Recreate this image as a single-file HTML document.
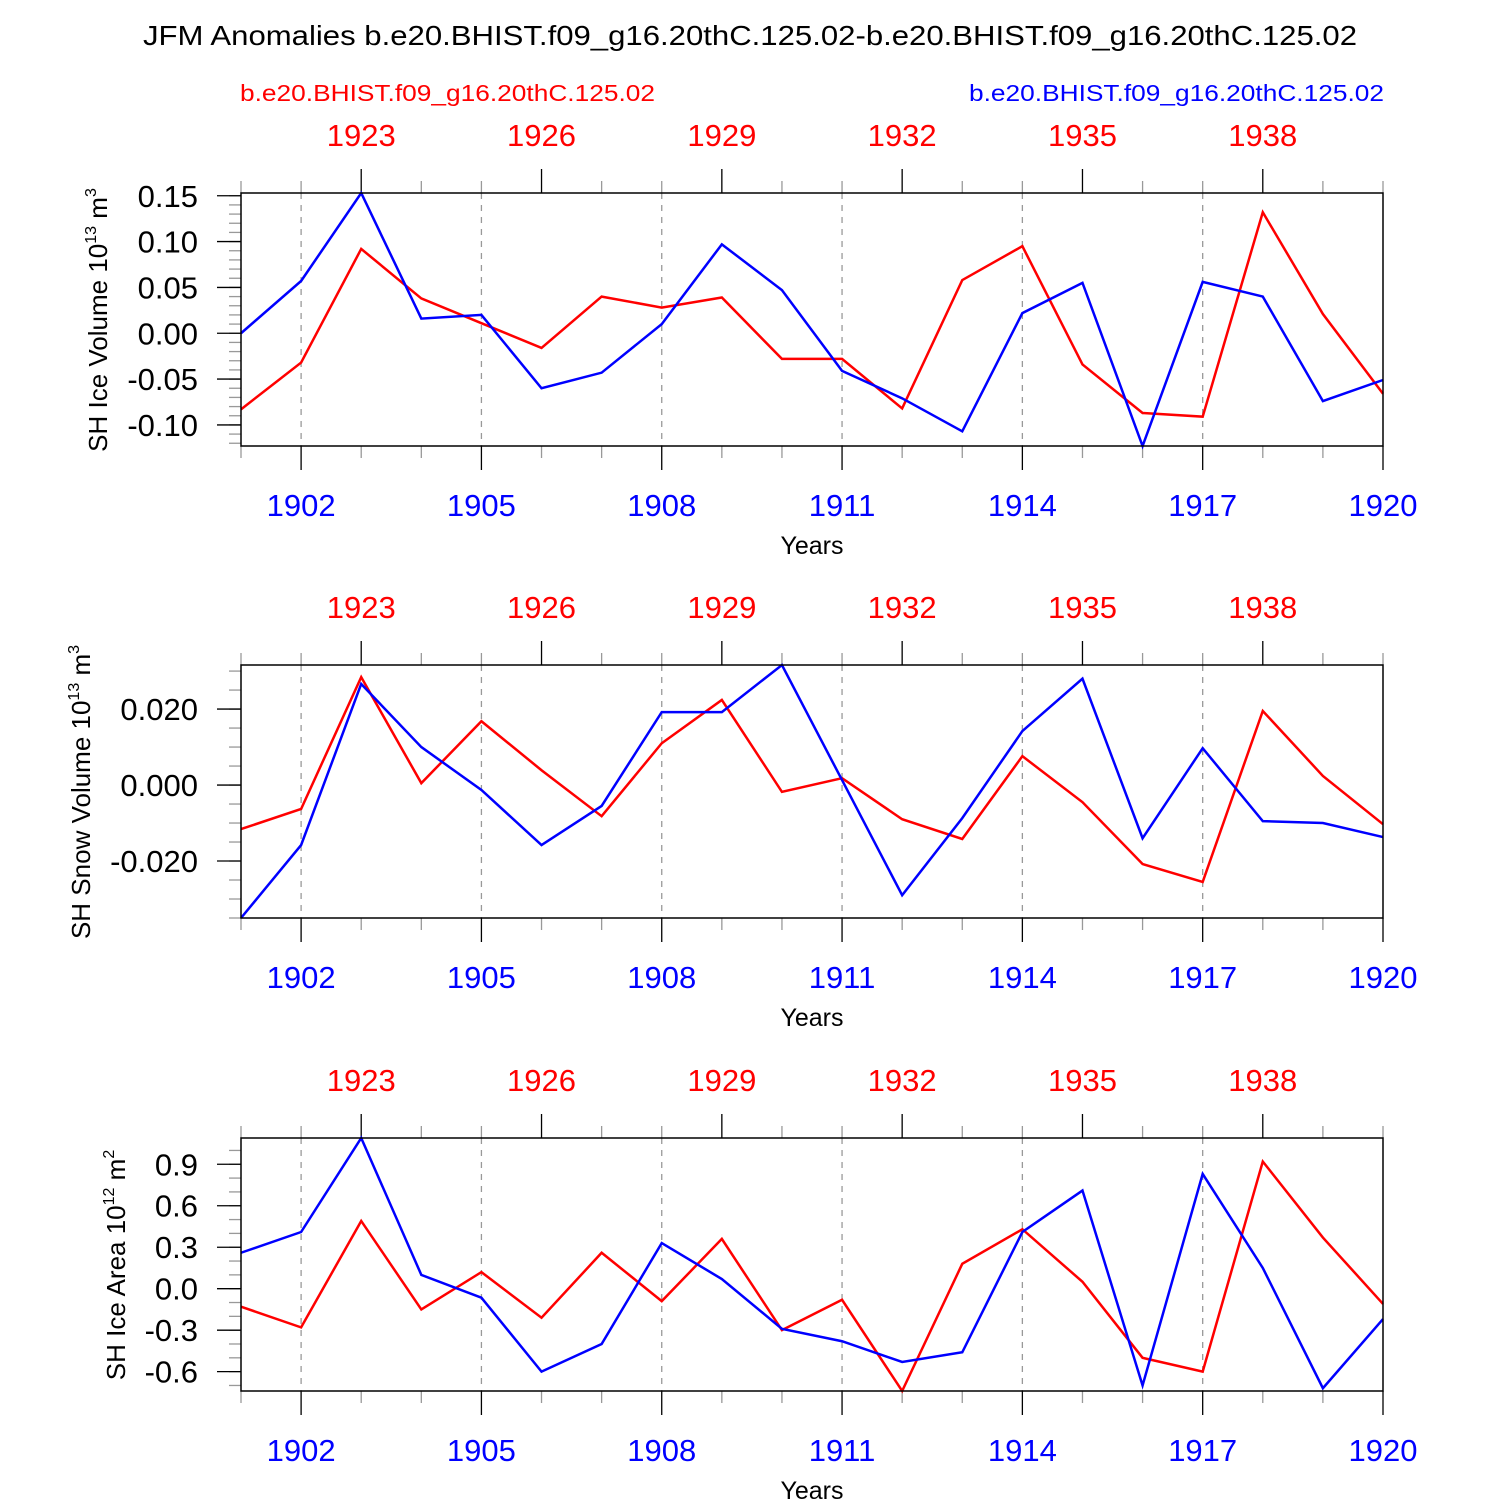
<!DOCTYPE html>
<html><head><meta charset="utf-8"><style>
html,body{margin:0;padding:0;background:#fff}
svg{display:block;font-family:"Liberation Sans",sans-serif}
</style></head><body>
<svg id="c" width="1500" height="1500" viewBox="0 0 1500 1500">
<text x="143" y="45" font-size="28" textLength="1214" lengthAdjust="spacingAndGlyphs">JFM Anomalies b.e20.BHIST.f09_g16.20thC.125.02-b.e20.BHIST.f09_g16.20thC.125.02</text>
<text x="240" y="101" font-size="23" fill="#f00" textLength="415" lengthAdjust="spacingAndGlyphs">b.e20.BHIST.f09_g16.20thC.125.02</text>
<text x="969" y="101" font-size="23" fill="#00f" textLength="415" lengthAdjust="spacingAndGlyphs">b.e20.BHIST.f09_g16.20thC.125.02</text>
</svg>
<script>
const years=[1901,1902,1903,1904,1905,1906,1907,1908,1909,1910,1911,1912,1913,1914,1915,1916,1917,1918,1919,1920];
const blueMajorLabels=["1902","1905","1908","1911","1914","1917","1920"];
const redTopLabels=["1923","1926","1929","1932","1935","1938"];
const iceVolBlue=[0.000,0.057,0.153,0.016,0.020,-0.060,-0.043,0.010,0.097,0.047,-0.041,-0.071,-0.107,0.022,0.055,-0.123,0.056,0.040,-0.074,-0.051];
const iceVolRed=[-0.083,-0.032,0.092,0.038,0.011,-0.016,0.040,0.028,0.039,-0.028,-0.028,-0.082,0.058,0.095,-0.034,-0.087,-0.091,0.132,0.021,-0.066];
const snowBlue=[-0.035,-0.0158,0.0266,0.010,-0.0013,-0.0158,-0.0055,0.0192,0.0192,0.0316,0.0013,-0.029,-0.0087,0.0142,0.028,-0.014,0.0097,-0.0095,-0.010,-0.0137];
const snowRed=[-0.0116,-0.0063,0.0284,0.0005,0.0168,0.0039,-0.0082,0.011,0.0224,-0.0018,0.0018,-0.009,-0.0142,0.0076,-0.0045,-0.0208,-0.0255,0.0195,0.0024,-0.0103];
const areaBlue=[0.26,0.41,1.09,0.10,-0.065,-0.60,-0.40,0.33,0.07,-0.29,-0.38,-0.53,-0.46,0.41,0.71,-0.70,0.83,0.15,-0.72,-0.22];
const areaRed=[-0.13,-0.28,0.49,-0.15,0.12,-0.21,0.26,-0.09,0.36,-0.30,-0.08,-0.74,0.18,0.43,0.05,-0.50,-0.60,0.92,0.37,-0.11];
const iceVolTicks=[0.15,0.10,0.05,0.00,-0.05,-0.10];
const snowTicks=[0.020,0.000,-0.020];
const areaTicks=[0.9,0.6,0.3,0.0,-0.3,-0.6];

const svg=document.getElementById('c');
const NS='http://www.w3.org/2000/svg';
function mk(tag,at,parent){const e=document.createElementNS(NS,tag);for(const k in at)e.setAttribute(k,at[k]);(parent||svg).appendChild(e);return e;}
const X0=241,X1=1383;
function xs(yr){return X0+(yr-1901)*(X1-X0)/19;}

function panel(name,top,blue,red,ticks,decimals,minorStep,ylabelMain,ylabelExp,ylabelUnit,ylabelX,ylabelY){
  const bot=top+253;
  const all=blue.concat(red);
  const vmin=Math.min(...all),vmax=Math.max(...all);
  const ys=v=>bot-(v-vmin)/(vmax-vmin)*(bot-top);
  const g=mk('g',{});
  
  
  years.forEach((y,i)=>{
    if((y-1902)%3===0 && y!==1920){
      const l=mk('line',{x1:xs(y),x2:xs(y),y1:top,y2:bot,stroke:'#999','stroke-width':1.3,'stroke-dasharray':'6,6'},g);
      
    }
  });
  years.forEach(y=>{
    const maj=(y-1902)%3===0;
    mk('line',{x1:xs(y),x2:xs(y),y1:bot,y2:bot+(maj?24:12),stroke:maj?'#000':'#999','stroke-width':1.3},g);
    const ry=y+20;
    const majTop=(ry-1923)%3===0&&ry>=1923&&ry<=1938;
    mk('line',{x1:xs(y),x2:xs(y),y1:top,y2:top-(majTop?24:12),stroke:majTop?'#000':'#999','stroke-width':1.3},g);
  });
  blueMajorLabels.forEach(s=>{
    const t=mk('text',{x:xs(+s),y:bot+70,'text-anchor':'middle','font-size':31,fill:'#00f'},g);t.textContent=s;
    
  });
  redTopLabels.forEach(s=>{
    const t=mk('text',{x:xs(+s-20),y:top-47,'text-anchor':'middle','font-size':31,fill:'#f00'},g);t.textContent=s;
    
  });
  const xt=mk('text',{x:812,y:bot+108,'text-anchor':'middle','font-size':25},g);xt.textContent='Years';
  
  const s0=Math.ceil(vmin/minorStep-1e-6);
  for(let k=s0;k*minorStep<=vmax+1e-9;k++){
    const v=k*minorStep;
    mk('line',{x1:X0-12,x2:X0,y1:ys(v),y2:ys(v),stroke:'#999','stroke-width':1.3},g);
  }
  ticks.forEach(v=>{
    mk('line',{x1:X0-24,x2:X0,y1:ys(v),y2:ys(v),stroke:'#000','stroke-width':1.3},g);
    const t=mk('text',{x:X0-43,y:ys(v)+11,'text-anchor':'end','font-size':31},g);t.textContent=v.toFixed(decimals);
    
  });
  const yl=mk('text',{x:0,y:0,'font-size':26,transform:`translate(${ylabelX},${ylabelY}) rotate(-90)`,'text-anchor':'middle'},g);
  
  yl.innerHTML=`${ylabelMain} 10<tspan dy="-11" font-size="16">${ylabelExp}</tspan><tspan dy="11"> m</tspan><tspan dy="-11" font-size="16">${ylabelUnit}</tspan>`;
  const pts=arr=>arr.map((v,i)=>xs(years[i])+','+ys(v)).join(' ');
  const pr=mk('polyline',{points:pts(red),fill:'none',stroke:'#f00','stroke-width':2.5},g);
  
  const pb=mk('polyline',{points:pts(blue),fill:'none',stroke:'#00f','stroke-width':2.5},g);
  
  const r=mk('rect',{x:X0,y:top,width:X1-X0,height:bot-top,fill:'none',stroke:'#000','stroke-width':1.5},g);
  
}
panel('ice-volume',193,iceVolBlue,iceVolRed,iceVolTicks,2,0.01,'SH Ice Volume','13','3',107,320);
panel('snow-volume',665,snowBlue,snowRed,snowTicks,3,0.005,'SH Snow Volume','13','3',90,792);
panel('ice-area',1138,areaBlue,areaRed,areaTicks,1,0.1,'SH Ice Area','12','2',125,1265);
</script>
</body></html>
